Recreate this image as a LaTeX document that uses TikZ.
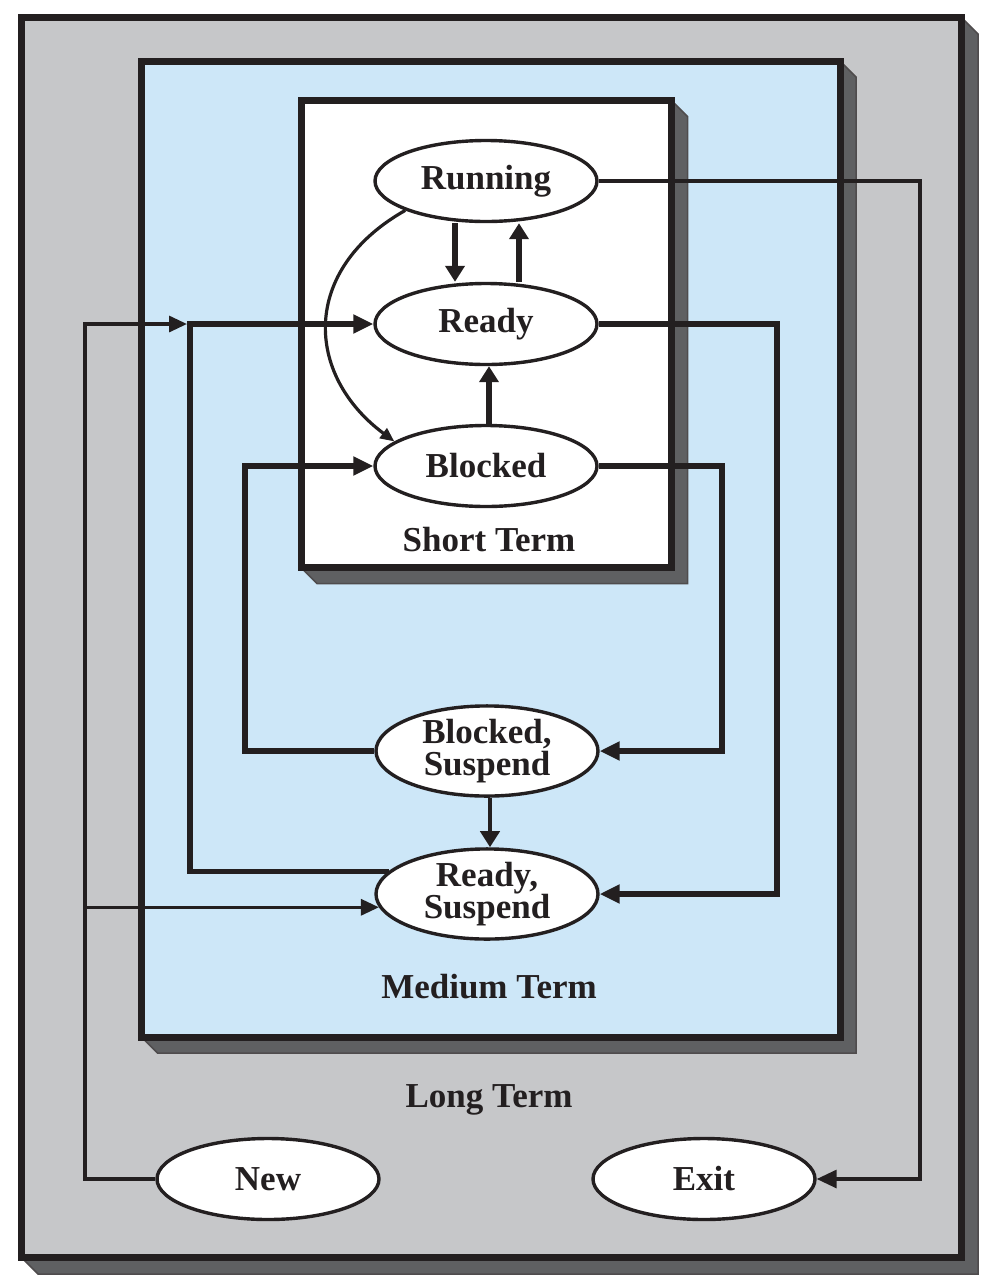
\documentclass[tikz,border=0pt]{standalone}
\usepackage{fontspec}
\setmainfont{Liberation Serif}
\usetikzlibrary{shapes.geometric,arrows.meta,calc}
\definecolor{lgray}{HTML}{C6C7C9}
\definecolor{lblue}{HTML}{CDE7F8}
\definecolor{sgray}{HTML}{5F6062}
\definecolor{ink}{HTML}{231F20}
\begin{document}
\begin{tikzpicture}[x=1pt,y=-1pt,
  state/.style={ellipse, draw=ink, line width=3.4pt, fill=white, minimum width=222pt, minimum height=81pt, inner sep=0pt, font=\fontsize{35}{32}\selectfont\bfseries, align=center, text=ink},
  lbl/.style={font=\fontsize{35}{36}\selectfont\bfseries, text=ink},
  frame/.style={draw=ink, line width=7pt},
  shade/.style={fill=sgray, draw=ink!80, line width=1.5pt, line join=miter},
  conn/.style={draw=ink, line width=5.5pt},
  wire/.style={draw=ink, line width=3.2pt},
  bigtip/.style={-{Triangle[length=20pt,width=18pt]}},
  vtip/.style={-{Triangle[length=16pt,width=19pt]}},
  smalltip/.style={-{Triangle[length=18pt,width=16pt]}},
  curvetip/.style={-{Triangle[length=14pt,width=12pt]}}
]
\fill[white] (0,0) rectangle (990,1286);
\useasboundingbox (0,0) rectangle (990,1286);

% outer (long term) box
\path[shade] (961,17) -- (978,34) -- (978,1274) -- (38,1274) -- (21,1257) -- cycle;
\path[frame, fill=lgray] (21,17) rectangle (961,1257);
% medium term box
\path[shade] (840,61) -- (856,77) -- (856,1053) -- (157.5,1053) -- (141.5,1037) -- cycle;
\path[frame, fill=lblue] (141.5,61) rectangle (840,1037);
% short term box
\path[shade] (671.5,100.5) -- (687.5,116.5) -- (687.5,583.5) -- (317,583.5) -- (301,567.5) -- cycle;
\path[frame, fill=white] (301,100.5) rectangle (671.5,567.5);

% labels
\node[lbl] (st) at (489,540) {Short Term};
\node[lbl] (mt) at (489,987) {Medium Term};
\node[lbl] (lt) at (489,1100) {Long Term};

% states
\node[state] (Running) at (486,181) {Running};
\node[state] (Ready) at (486,324) {Ready};
\node[state] (Blocked) at (486,466) {Blocked};
\node[state] (BS) at (487,751) {Blocked,\\Suspend};
\node[state] (RS) at (487,894) {Ready,\\Suspend};
\node[state] (New) at (268,1179) {New};
\node[state] (Exit) at (704,1179) {Exit};

% routing coordinates
\coordinate (xn) at (85,0);
\coordinate (xl) at (190,0);
\coordinate (xc) at (245,0);
\coordinate (xb) at (722,0);
\coordinate (xr) at (777,0);
\coordinate (xe) at (920,0);

% short-term transitions
\draw[conn, vtip] ($(Running.south)+(-31,0)$) -- ($(Ready.north)+(-31,0)$);
\draw[conn, vtip] ($(Ready.north)+(33,0)$) -- ($(Running.south)+(33,0)$);
\draw[conn, vtip] ($(Blocked.north)+(3,0)$) -- ($(Ready.south)+(3,0)$);
\draw[wire, curvetip] (Running.200) .. controls (300,270) and (305,375) .. (Blocked.165);

% Running -> Exit
\draw[wire, bigtip] (Running.east) -- (Running.east -| xe) -- (Exit.east -| xe) -- (Exit.east);

% Ready -> Ready,Suspend
\draw[conn, bigtip] (Ready.east) -- (Ready.east -| xr) -- (RS.east -| xr) -- (RS.east);
% Blocked -> Blocked,Suspend
\draw[conn, bigtip] (Blocked.east) -- (Blocked.east -| xb) -- (BS.east -| xb) -- (BS.east);
% Blocked,Suspend -> Blocked
\draw[conn, bigtip] (BS.west) -- (BS.west -| xc) -- (Blocked.west -| xc) -- (Blocked.west);
% Blocked,Suspend -> Ready,Suspend
\draw[conn, line width=4pt, vtip] ($(BS.south)+(3,0)$) -- ($(RS.north)+(3,0)$);
% Ready,Suspend -> Ready
\draw[conn, bigtip] (RS.167) -- (RS.167 -| xl) -- (Ready.west -| xl) -- (Ready.west);

% New -> Ready and New -> Ready,Suspend
\draw[wire, smalltip, shorten >=3pt] (New.west) -- (New.west -| xn) -- (Ready.west -| xn) -- (Ready.west -| xl);
\draw[wire, smalltip] (RS.187 -| xn) -- (RS.187);
\end{tikzpicture}
\end{document}
